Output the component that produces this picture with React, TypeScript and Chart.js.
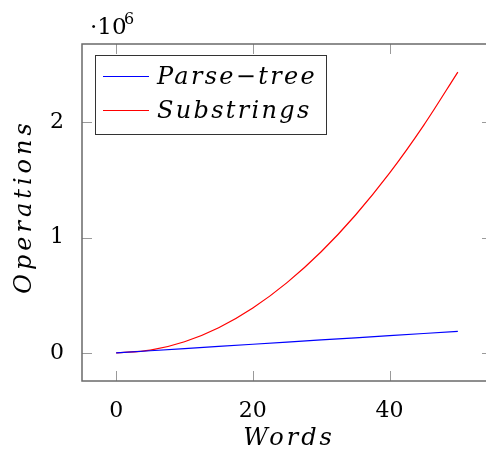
import React, { useEffect, useRef } from "react";
import { Chart, registerables } from "chart.js";

Chart.register(...registerables);

const words = [0, 5, 10, 15, 20, 25, 30, 35, 40, 45, 50];
const parseTree = [0, 18750, 37500, 56250, 75000, 93750, 112500, 131250, 150000, 168750, 187500];
const substrings = [0, 24000, 97000, 219000, 390000, 610000, 878000, 1195000, 1560000, 1975000, 2437500];
const xTickValues = [0, 20, 40];
const yTickValues = [0, 1000000, 2000000];
const seriesNames = ["Parse\u2212tree", "Substrings"];
const xTitle = "Words";
const yTitle = "Operations";

const SERIF = "'DejaVu Serif', serif";

function drawSpaced(ctx: CanvasRenderingContext2D, text: string, x: number, y: number, spacing: number) {
  const c: any = ctx;
  if ("letterSpacing" in c) {
    c.letterSpacing = spacing + "px";
    ctx.fillText(text, x, y);
    c.letterSpacing = "0px";
  } else {
    ctx.fillText(text, x, y);
  }
}

const decorPlugin = {
  id: "decor",
  afterDraw(chart: any) {
    const ctx: CanvasRenderingContext2D = chart.ctx;
    const a = chart.chartArea;
    const xs = chart.scales.x;
    const ys = chart.scales.y;
    ctx.save();
    // ticks (inside, mirrored)
    ctx.strokeStyle = "#9a9a9a";
    ctx.lineWidth = 1;
    const tl = 10;
    xTickValues.forEach((v) => {
      const px = Math.round(xs.getPixelForValue(v)) + 0.5;
      ctx.beginPath();
      ctx.moveTo(px, a.bottom);
      ctx.lineTo(px, a.bottom - tl);
      ctx.moveTo(px, a.top);
      ctx.lineTo(px, a.top + tl);
      ctx.stroke();
    });
    yTickValues.forEach((v) => {
      const py = Math.round(ys.getPixelForValue(v)) + 0.5;
      ctx.beginPath();
      ctx.moveTo(a.left, py);
      ctx.lineTo(a.left + tl, py);
      ctx.moveTo(a.right, py);
      ctx.lineTo(a.right - tl, py);
      ctx.stroke();
    });
    // frame
    ctx.strokeStyle = "#6a6a6a";
    ctx.lineWidth = 1.5;
    ctx.strokeRect(a.left, a.top, a.right - a.left, a.bottom - a.top);

    // legend
    const lx = a.left + 13;
    const ly = a.top + 11;
    const lw = 231;
    const lh = 79;
    ctx.fillStyle = "#ffffff";
    ctx.fillRect(lx, ly, lw, lh);
    ctx.strokeStyle = "#333333";
    ctx.lineWidth = 1;
    ctx.strokeRect(lx + 0.5, ly + 0.5, lw, lh);
    const colors = ["#0000ff", "#ff0000"];
    const rows = [ly + 21.5, ly + 55.5];
    ctx.font = "italic 24px " + SERIF;
    ctx.textBaseline = "middle";
    ctx.textAlign = "left";
    seriesNames.forEach((name, i) => {
      ctx.strokeStyle = colors[i];
      ctx.lineWidth = 1.2;
      ctx.beginPath();
      ctx.moveTo(lx + 8, rows[i]);
      ctx.lineTo(lx + 54, rows[i]);
      ctx.stroke();
      ctx.fillStyle = "#000000";
      drawSpaced(ctx, name, lx + 62, rows[i] + 1, 2.3);
    });

    // axis titles
    ctx.fillStyle = "#000000";
    ctx.font = "italic 24px " + SERIF;
    ctx.textAlign = "center";
    ctx.textBaseline = "alphabetic";
    drawSpaced(ctx, xTitle, (a.left + a.right) / 2 + 2, 445, 3.0);
    ctx.save();
    ctx.translate(31, (a.top + a.bottom) / 2 - 4);
    ctx.rotate(-Math.PI / 2);
    drawSpaced(ctx, yTitle, 2, 0, 4.0);
    ctx.restore();

    // exponent label
    ctx.textAlign = "left";
    ctx.font = "23px " + SERIF;
    ctx.fillText("\u00b710", 90, 34);
    ctx.font = "16px " + SERIF;
    ctx.fillText("6", 124, 24);
    ctx.restore();
  },
};

export default function App() {
  const ref = useRef<HTMLCanvasElement | null>(null);
  useEffect(() => {
    if (!ref.current) return;
    const chart = new Chart(ref.current, {
      type: "line",
      data: {
        datasets: [
          {
            label: seriesNames[0],
            data: words.map((w, i) => ({ x: w, y: parseTree[i] })),
            borderColor: "#0000ff",
            borderWidth: 1.2,
            pointRadius: 0,
            fill: false,
          },
          {
            label: seriesNames[1],
            data: words.map((w, i) => ({ x: w, y: substrings[i] })),
            borderColor: "#ff0000",
            borderWidth: 1.2,
            pointRadius: 0,
            fill: false,
            cubicInterpolationMode: "monotone",
          },
        ],
      },
      options: {
        responsive: false,
        animation: false,
        devicePixelRatio: 1,
        layout: { padding: { left: 0, top: 44, right: 8, bottom: 0 } },
        plugins: { legend: { display: false }, tooltip: { enabled: false } },
        scales: {
          x: {
            type: "linear",
            min: -5,
            max: 55,
            grid: { display: false },
            border: { display: false },
            afterBuildTicks: (s: any) => {
              s.ticks = xTickValues.map((v) => ({ value: v }));
            },
            afterFit: (s: any) => {
              s.height = 71;
            },
            ticks: {
              padding: 9,
              color: "#000000",
              font: { family: SERIF, size: 22 },
              maxRotation: 0,
              callback: (v: any) => String(v),
            },
          },
          y: {
            type: "linear",
            min: -243750,
            max: 2681250,
            grid: { display: false },
            border: { display: false },
            afterBuildTicks: (s: any) => {
              s.ticks = yTickValues.map((v) => ({ value: v }));
            },
            afterFit: (s: any) => {
              s.width = 82;
            },
            ticks: {
              padding: 10,
              color: "#000000",
              font: { family: SERIF, size: 22 },
              callback: (v: any) => String(Number(v) / 1000000),
            },
          },
        },
      },
      plugins: [decorPlugin],
    } as any);
    return () => chart.destroy();
  }, []);
  return (
    <div
      style={{
        position: "fixed",
        left: 0,
        top: 0,
        width: 486,
        height: 452,
        overflow: "hidden",
        background: "#ffffff",
      }}
    >
      <canvas ref={ref} width={500} height={452} style={{ display: "block", width: 500, height: 452 }} />
    </div>
  );
}
